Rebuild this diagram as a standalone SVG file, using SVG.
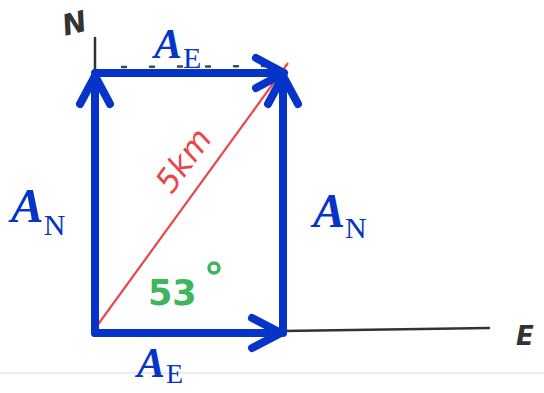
<svg xmlns="http://www.w3.org/2000/svg" width="544" height="393" viewBox="0 0 544 393">
<defs>
<style>
.vec{stroke:#0634c8;stroke-width:8;fill:none;stroke-linecap:round;stroke-linejoin:round}
.axis{stroke:#333;stroke-width:2.5;fill:none;stroke-linecap:round}
.hand{font-family:"DejaVu Sans","Liberation Sans",sans-serif}
.big{font-family:"Liberation Serif","Times New Roman",serif;fill:#0634c8}
.A{font-style:italic;font-weight:bold}
</style>
</defs>
<rect width="544" height="393" fill="#fff"/>
<line x1="0" y1="373" x2="544" y2="373" stroke="#e6e6e6" stroke-width="1.5"/>
<g id="axes">
<line class="axis" x1="95" y1="38" x2="95" y2="72"/>
<line class="axis" x1="283" y1="331" x2="489" y2="328"/>
<line x1="122" y1="67" x2="268" y2="66" stroke="#444" stroke-width="2.5" stroke-dasharray="4 24" stroke-linecap="round"/>
<text class="hand" x="62" y="33" font-size="29" fill="#333" font-style="italic" font-weight="bold" transform="rotate(-14 76 22)">N</text>
<text class="hand" x="516" y="345" font-size="26" fill="#333" font-style="italic" font-weight="bold">E</text>
</g>
<g id="resultant">
<line x1="94" y1="330" x2="288" y2="63" stroke="#e8464a" stroke-width="2.2"/>
<text class="hand" x="190" y="168" font-size="32" fill="#e8464a" text-anchor="middle" font-style="italic" transform="rotate(-54 190 165)">5km</text>
<text class="hand" x="148" y="305" font-size="35" fill="#3fb560" font-weight="bold">53</text>
<circle cx="214" cy="268" r="5" fill="none" stroke="#3fb560" stroke-width="3.5"/>
</g>
<g id="connectors">
<path class="vec" d="M95 333 V76 M80 104 L95 76 L110 104"/>
<path class="vec" d="M95 73 H284 M256 58 L284 73 L256 88"/>
<path class="vec" d="M283 333 V76 M268 104 L283 76 L298 104"/>
<path class="vec" d="M95 333 H281 M252 318 L281 333 L252 348"/>
</g>
<g id="label-AE-top">
<text class="big" x="154" y="58"><tspan class="A" font-size="42">A</tspan><tspan font-size="30" dx="1" dy="10">E</tspan></text>
</g>
<g id="label-AN-left">
<text class="big" x="11" y="222"><tspan class="A" font-size="49">A</tspan><tspan font-size="30" dy="13">N</tspan></text>
</g>
<g id="label-AN-right">
<text class="big" x="313" y="227"><tspan class="A" font-size="48">A</tspan><tspan font-size="30" dy="11">N</tspan></text>
</g>
<g id="label-AE-bottom">
<text class="big" x="137" y="377"><tspan class="A" font-size="42">A</tspan><tspan font-size="28" dx="1" dy="6">E</tspan></text>
</g>
</svg>
